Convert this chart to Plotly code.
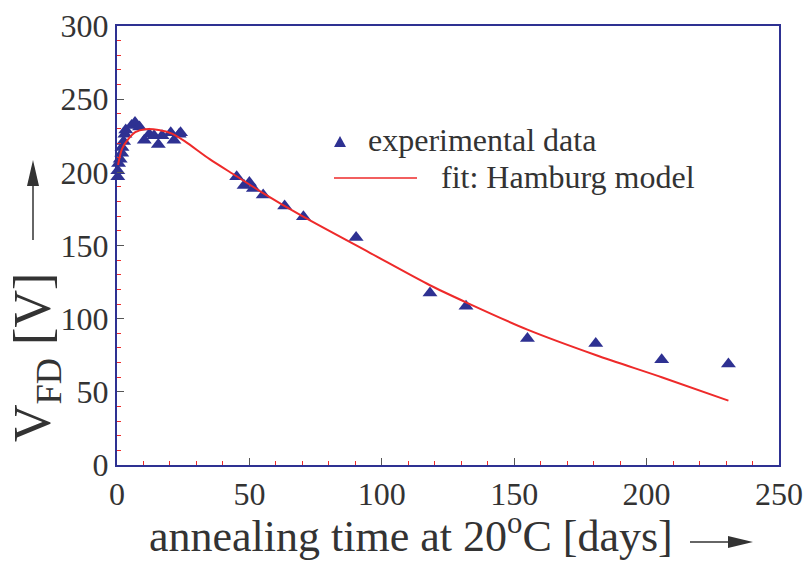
import plotly.graph_objects as go

# ---- data ----
exp_days = [0.3, 0.3, 0.6, 1.2, 1.8, 1.9, 2.5, 3.0, 3.3, 5.5, 6.8, 8.5, 10.3, 12.2,
            14.0, 15.6, 17.0, 20.3, 21.5, 23.5, 24.0, 45.2, 48.0, 50.0, 51.5, 55.2,
            63.3, 70.4, 90.3, 118.2, 131.8, 155.0, 180.8, 205.7, 230.9]
exp_vfd = [197, 201, 206, 209, 213, 217, 221, 226, 229, 232, 234, 231, 222, 226,
           225, 219, 225, 227, 222, 226, 227, 197, 191, 193, 189, 184.5,
           177, 169.7, 155.5, 117.5, 108.5, 86.5, 83, 72, 69]

fit_days = [0.4, 1.9, 4.4, 6.9, 10.7, 15.7, 20.8, 25.8, 35, 45, 55, 70, 95.5,
            118, 132, 155, 181, 205.7, 230.9]
fit_vfd = [205, 216, 223, 227.5, 229.5, 229, 226.5, 221, 209, 197.5, 186, 170, 145,
           123, 111, 92.5, 75, 60, 44]

x_range = [0, 250]
y_range = [0, 300]

FONT = "Liberation Serif"
TXT = "#333333"
NAVY = "#2e3192"
RED = "#ee2a2a"

# plot-area geometry in pixels (for placing decorations)
W, H = 805, 561
L, R, T, B = 117, 26, 26, 96
PW, PH = W - L - R, H - T - B


def px(xp):
    return (xp - L) / PW


def py(yp):
    return (H - B - yp) / PH


fig = go.Figure()
fig.add_trace(go.Scatter(
    x=exp_days, y=exp_vfd, mode="markers", name="experimental data",
    marker=dict(symbol="triangle-up", size=13, color=NAVY),
    showlegend=False, cliponaxis=False))
fig.add_trace(go.Scatter(
    x=fit_days, y=fit_vfd, mode="lines", name="fit: Hamburg model",
    line=dict(color=RED, width=2, shape="spline", smoothing=0.8),
    showlegend=False))

axis_common = dict(
    showgrid=False, zeroline=False, automargin=False,
    showline=True, linecolor=NAVY, linewidth=2, mirror=True,
    ticks="inside", ticklen=7, tickwidth=1, tickcolor="#555555",
    tickfont=dict(family=FONT, size=32, color=TXT),
    minor=dict(ticks="inside", ticklen=4, tickwidth=1, tickcolor=RED, dtick=10),
    dtick=50,
)
fig.update_xaxes(range=x_range, **axis_common)
fig.update_yaxes(range=y_range, **axis_common)

annotations = [
    # x-axis title
    dict(text="annealing time at 20<sup>o</sup>C [days]", xref="paper", yref="paper",
         x=px(147), y=py(533), xanchor="left", yanchor="middle", showarrow=False,
         font=dict(family=FONT, size=44, color=TXT)),
    # y-axis title
    dict(text="V<sub>FD</sub> [V]", xref="paper", yref="paper",
         x=px(36), y=py(358), xanchor="center", yanchor="middle", textangle=-90,
         showarrow=False, font=dict(family=FONT, size=52, color=TXT)),
    # legend texts
    dict(text="experimental data", xref="paper", yref="paper",
         x=px(366), y=py(140), xanchor="left", yanchor="middle", showarrow=False,
         font=dict(family=FONT, size=32, color=TXT)),
    dict(text="fit: Hamburg model", xref="paper", yref="paper",
         x=px(439), y=py(177), xanchor="left", yanchor="middle", showarrow=False,
         font=dict(family=FONT, size=32, color=TXT)),
]


def tri(p1, p2, p3, color):
    return dict(type="path", xref="paper", yref="paper",
                path=(f"M {px(p1[0])} {py(p1[1])} L {px(p2[0])} {py(p2[1])} "
                      f"L {px(p3[0])} {py(p3[1])} Z"),
                fillcolor=color, line=dict(color=color, width=0))


shapes = [
    # legend glyphs
    dict(type="line", xref="paper", yref="paper", x0=px(334), x1=px(417),
         y0=py(178), y1=py(178), line=dict(color=RED, width=1.5)),
    tri((334, 147), (346, 147), (340, 136), NAVY),
    # x-axis arrow
    dict(type="line", xref="paper", yref="paper", x0=px(690), x1=px(738),
         y0=py(542), y1=py(542), line=dict(color=TXT, width=1.5)),
    tri((728, 536), (728, 548), (753, 542), TXT),
    # y-axis arrow
    dict(type="line", xref="paper", yref="paper", x0=px(33), x1=px(33),
         y0=py(240), y1=py(175), line=dict(color=TXT, width=1.5)),
    tri((27, 186), (39, 186), (33, 160), TXT),
]

fig.update_layout(
    width=W, height=H,
    margin=dict(l=L, r=R, t=T, b=B),
    paper_bgcolor="white", plot_bgcolor="white",
    annotations=annotations, shapes=shapes,
    showlegend=False,
)

fig.write_html("out.html")
